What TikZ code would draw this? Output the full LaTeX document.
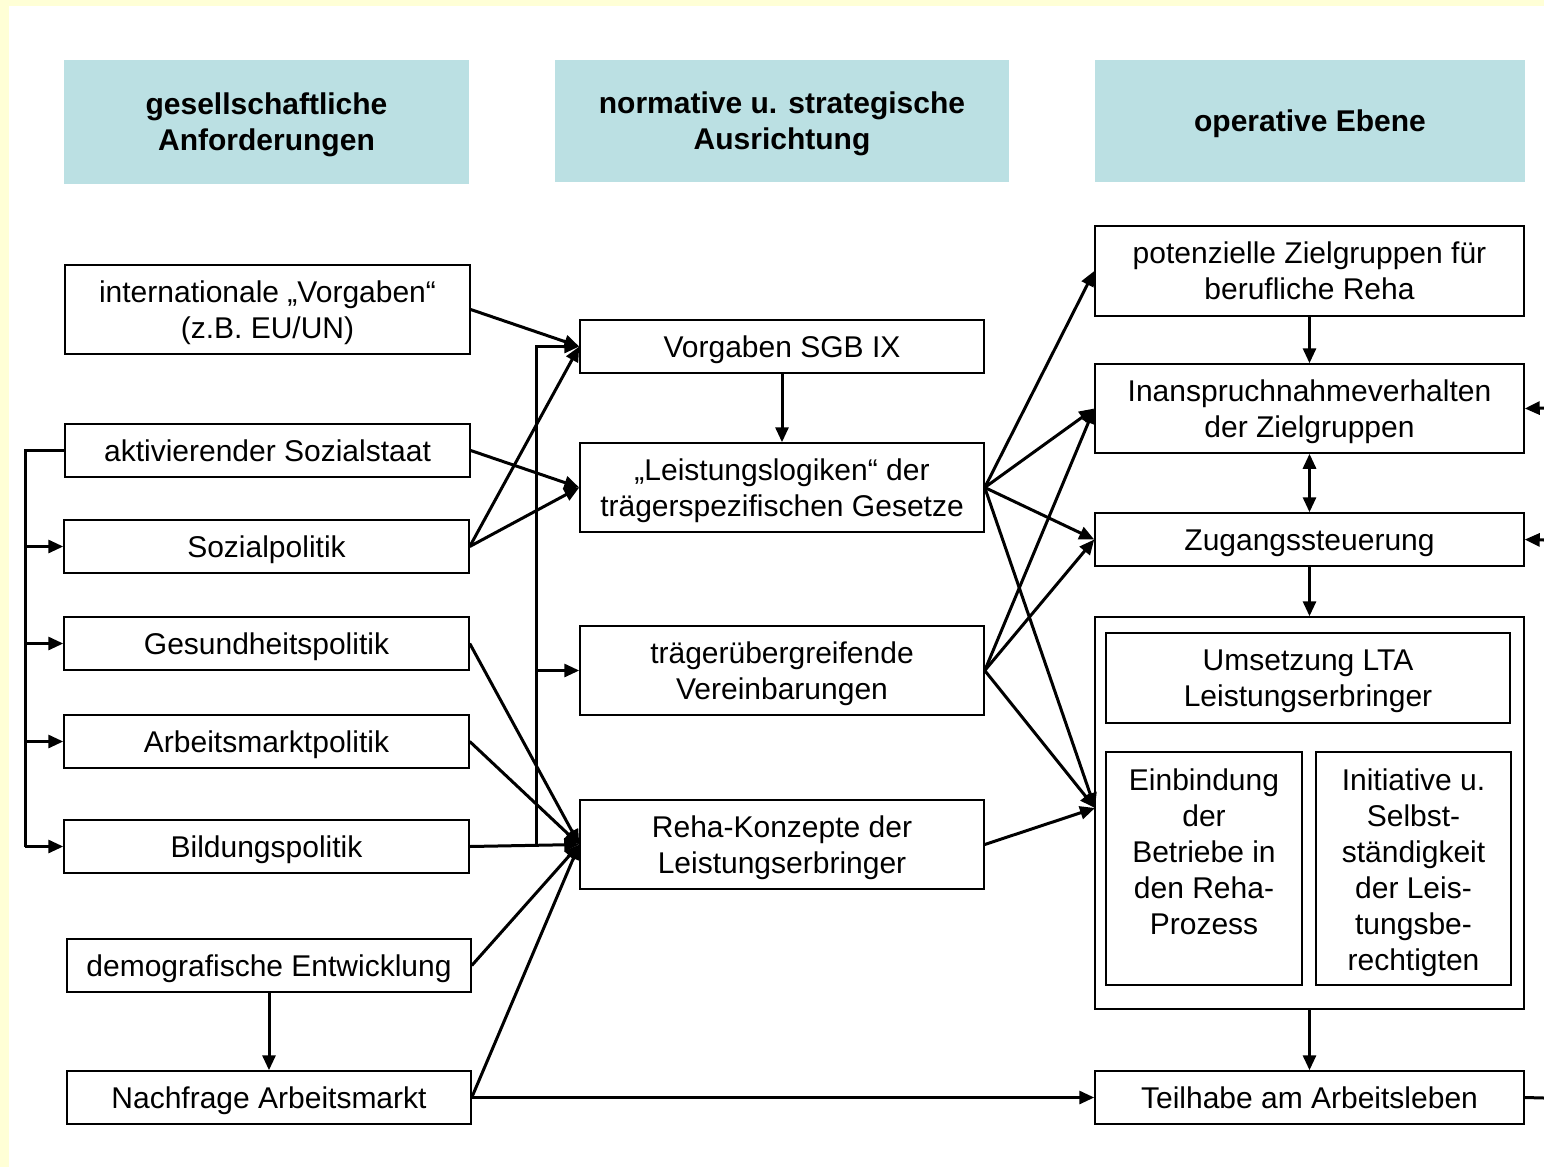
\documentclass[tikz,border=0pt]{standalone}
\usepackage{fontspec}
\setmainfont{Liberation Sans}
\usetikzlibrary{arrows.meta}
\definecolor{bgyellow}{HTML}{FFFFD6}
\definecolor{headfill}{HTML}{BBE0E3}
\newcommand\topstrut{\rule{0pt}{27.4pt}}
\newcommand\botstrut{\rule[-6.4pt]{0pt}{0pt}}
\tikzset{
  box/.style={draw=black, line width=1.5pt, fill=white, inner sep=0pt, align=center,
    font=\fontsize{30}{36}\selectfont,
    execute at begin node=\topstrut, execute at end node=\botstrut},
  headbox/.style={fill=headfill, inner sep=0pt, align=center,
    font=\bfseries\fontsize{30}{36}\selectfont,
    execute at begin node=\topstrut, execute at end node=\botstrut},
  txt/.style={inner sep=0pt, align=center, font=\fontsize{30}{36}\selectfont},
  conn/.style={line width=3pt, line join=miter},
  arr/.style={conn, -{Triangle[length=15pt,width=13pt]}},
  darr/.style={conn, {Triangle[length=15pt,width=13pt]}-{Triangle[length=15pt,width=13pt]}},
}
\begin{document}
\begin{tikzpicture}[x=1pt, y=-1pt]
\useasboundingbox (0,0) rectangle (1544,1167);
\fill[bgyellow] (0,0) rectangle (1544,1167);
\fill[white] (9,6) rectangle (1544,1167);

% headers
\node[headbox, minimum width=405pt, minimum height=124pt] (h1) at (266.5,122) {\topstrut gesellschaftliche\\Anforderungen};
\node[headbox, minimum width=454pt, minimum height=122pt] (h2) at (782,121) {\topstrut normative u. strategische\\Ausrichtung};
\node[headbox, minimum width=430pt, minimum height=122pt] (h3) at (1310,121) {operative Ebene};

% left column
\node[box, minimum width=405pt, minimum height=89pt] (intl) at (267.5,309.5) {\topstrut internationale „Vorgaben“\\(z.B. EU/UN)};
\node[box, minimum width=405pt, minimum height=53pt] (akt) at (267.5,450.5) {aktivierender Sozialstaat};
\node[box, minimum width=405pt, minimum height=53pt] (soz) at (266.5,546.5) {Sozialpolitik};
\node[box, minimum width=405pt, minimum height=53pt] (ges) at (266.5,643.5) {Gesundheitspolitik};
\node[box, minimum width=405pt, minimum height=53pt] (arb) at (266.5,741.5) {Arbeitsmarktpolitik};
\node[box, minimum width=405pt, minimum height=53pt] (bild) at (266.5,846.5) {Bildungspolitik};
\node[box, minimum width=404pt, minimum height=53pt] (demo) at (269,965.5) {demografische Entwicklung};
\node[box, minimum width=404pt, minimum height=53pt] (nach) at (269,1097.5) {Nachfrage Arbeitsmarkt};

% middle column
\node[box, minimum width=404pt, minimum height=53pt] (sgb) at (782,346.5) {Vorgaben SGB IX};
\node[box, minimum width=404pt, minimum height=89pt] (leist) at (782,487.5) {\topstrut „Leistungslogiken“ der\\trägerspezifischen Gesetze};
\node[box, minimum width=404pt, minimum height=89pt] (trag) at (782,670.5) {\topstrut trägerübergreifende\\Vereinbarungen};
\node[box, minimum width=404pt, minimum height=89pt] (reha) at (782,844.5) {\topstrut Reha-Konzepte der\\Leistungserbringer};

% right column
\node[box, minimum width=429pt, minimum height=90pt] (pot) at (1309.5,271) {\topstrut potenzielle Zielgruppen für\\berufliche Reha};
\node[box, minimum width=429pt, minimum height=89pt] (inan) at (1309.5,408.5) {\topstrut Inanspruchnahmeverhalten\\der Zielgruppen};
\node[box, minimum width=429pt, minimum height=53pt] (zug) at (1309.5,539.5) {Zugangssteuerung};
\node[box, minimum width=429pt, minimum height=392pt] (cont) at (1309.5,813) {};
\node[box, minimum width=404pt, minimum height=90pt] (ums) at (1308,678) {\topstrut Umsetzung LTA\\Leistungserbringer};
\node[box, minimum width=196pt, minimum height=233pt] (einb) at (1204,868.5) {};
\node[txt, anchor=north] (einbt) at (1204,769) {Einbindung\\der\\Betriebe in\\den Reha-\\Prozess};
\node[box, minimum width=195pt, minimum height=233pt] (init) at (1413.5,868.5) {};
\node[txt, anchor=north] (initt) at (1413.5,769) {Initiative u.\\Selbst-\\ständigkeit\\der Leis-\\tungsbe-\\rechtigten};
\node[box, minimum width=429pt, minimum height=53pt] (teil) at (1309.5,1097.5) {Teilhabe am Arbeitsleben};

% helper coordinates
\coordinate (lb) at (25,0);
\coordinate (mb) at (536,846);
\coordinate (cin) at (1095,808);
\coordinate (r1) at (1544,408);
\coordinate (r2) at (1544,540);
\coordinate (r3) at (1544,1098);

% left bus
\draw[conn] (akt.west) -- (akt.west -| lb) -- (lb |- bild.west);
\draw[arr] (lb |- soz.west) -- (soz.west);
\draw[arr] (lb |- ges.west) -- (ges.west);
\draw[arr] (lb |- arb.west) -- (arb.west);
\draw[arr] (lb |- bild.west) -- (bild.west);

% left to middle
\draw[arr] (intl.east) -- (sgb.west);
\draw[arr] (akt.east) -- (leist.west);
\draw[arr] (soz.east) -- (sgb.west);
\draw[arr] (soz.east) -- (leist.west);
\draw[arr] (bild.east) -- (reha.west);
\draw[arr] (mb) |- (sgb.west);
\draw[arr] (mb |- trag.west) -- (trag.west);
\draw[arr] (ges.east) -- (reha.west);
\draw[arr] (arb.east) -- (reha.west);
\draw[arr] (demo.east) -- (reha.west);
\draw[arr] (nach.east) -- (reha.west);
\draw[arr] (demo.south) -- (nach.north);
\draw[arr] (nach.east) -- (teil.west);

% middle
\draw[arr] (sgb.south) -- (leist.north);

% middle to right
\draw[arr] (leist.east) -- (pot.west);
\draw[arr] (leist.east) -- (inan.west);
\draw[arr] (leist.east) -- (zug.west);
\draw[arr] (leist.east) -- (cin);
\draw[arr] (trag.east) -- (inan.west);
\draw[arr] (trag.east) -- (zug.west);
\draw[arr] (trag.east) -- (cin);
\draw[arr] (reha.east) -- (cin);

% right column
\draw[arr] (pot.south) -- (inan.north);
\draw[darr] (inan.south) -- (zug.north);
\draw[arr] (zug.south) -- (cont.north);
\draw[arr] (cont.south) -- (teil.north);
\draw[arr] (r1) -- (inan.east);
\draw[arr] (r2) -- (zug.east);
\draw[conn] (teil.east) -- (r3);
\end{tikzpicture}
\end{document}
